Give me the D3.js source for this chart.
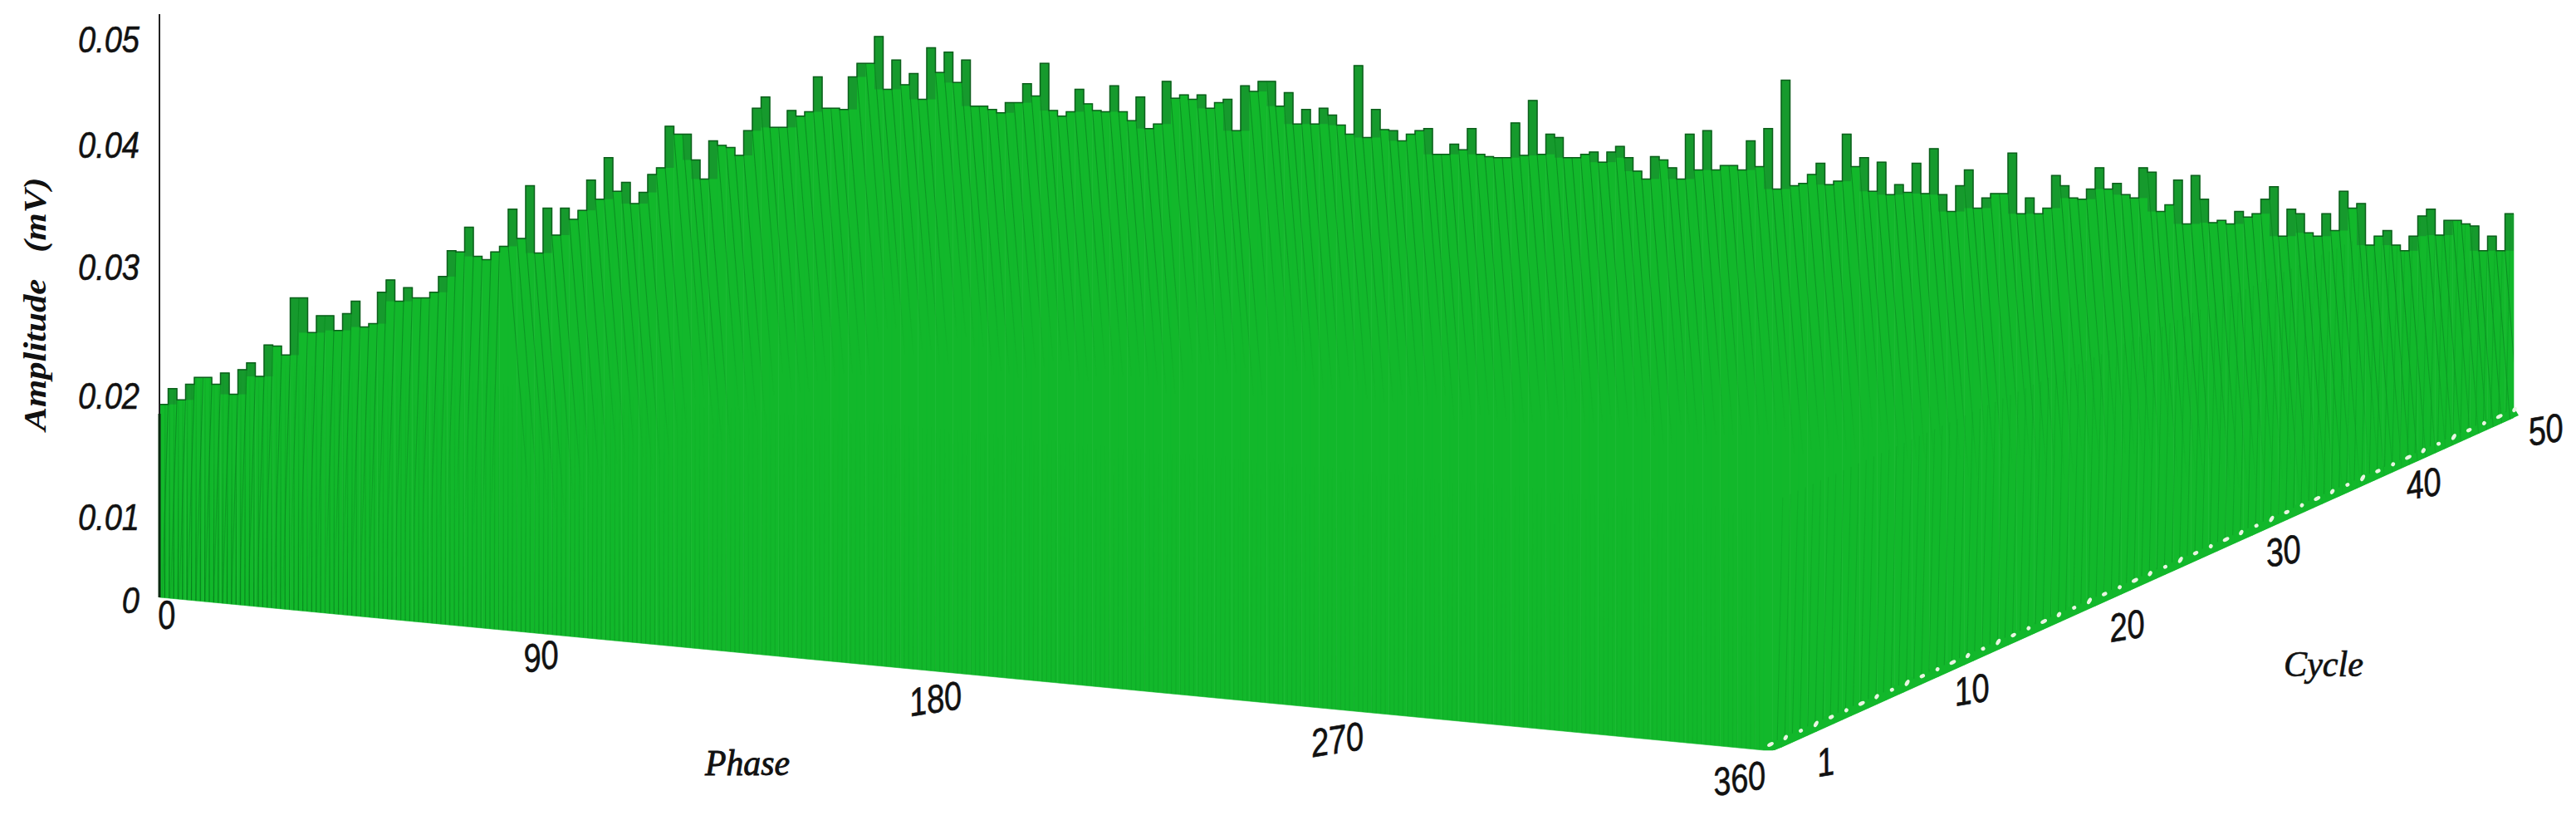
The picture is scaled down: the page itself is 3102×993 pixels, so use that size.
<!DOCTYPE html>
<html><head><meta charset="utf-8">
<script src="https://cdnjs.cloudflare.com/ajax/libs/d3/7.8.5/d3.min.js"></script>
<style>html,body{margin:0;padding:0;background:#fff}svg{display:block}</style></head>
<body><svg id="c" width="3102" height="993"></svg>
<script>
// Apparent height of every silhouette column, in microvolts (1000 = 1 mV)
const ridgeMicrovolts = [
17.5,18.9,17.9,19.3,19.9,19.9,19.3,20.3,18.4,20.6,21.2,20.0,22.8,22.7,21.9,27.0,27.0,23.9,25.4,25.4,
24.1,25.6,26.7,24.4,24.7,27.5,28.6,26.7,27.9,27.0,27.0,27.5,28.9,31.2,31.1,33.3,30.7,30.4,31.1,31.6,
34.9,32.3,37.0,31.0,35.0,32.6,35.0,34.0,34.8,37.5,35.8,39.5,36.5,37.3,35.4,36.4,38.0,38.6,42.3,41.6,
41.6,39.3,37.6,41.0,40.6,40.4,39.7,41.9,43.9,44.9,42.2,42.2,43.7,43.2,43.6,46.7,43.9,43.9,43.8,46.7,
47.9,47.9,50.3,45.6,48.2,46.0,47.0,44.7,49.3,47.1,48.9,46.2,48.2,44.1,44.1,43.8,43.5,44.4,44.4,46.1,
45.0,47.9,43.7,43.2,43.6,45.6,44.3,43.7,43.6,45.9,43.6,42.8,44.9,42.1,42.5,46.3,44.8,45.1,44.7,45.1,
43.9,44.4,44.7,41.9,45.9,45.4,46.3,46.3,44.1,45.3,42.5,43.8,42.5,43.9,43.3,42.4,41.6,47.7,41.3,43.8,
42.0,41.9,41.0,41.6,41.9,42.1,39.8,39.8,40.7,40.2,42.1,39.8,39.6,39.5,39.5,42.6,39.7,44.6,39.8,41.6,
41.3,39.5,39.5,39.8,40.0,39.1,40.0,40.5,39.5,38.3,37.6,39.6,39.3,38.6,37.6,41.6,38.4,41.9,38.4,38.8,
38.8,38.4,41.0,38.7,42.1,36.7,46.4,37.0,37.2,38.0,39.0,37.1,37.4,41.6,38.7,39.5,36.5,39.1,36.2,37.1,
36.4,39.0,36.3,40.3,36.2,34.7,37.0,38.4,35.0,35.9,36.3,36.3,39.9,34.5,35.9,34.5,35.0,37.9,37.0,35.9,
35.8,36.7,38.6,36.7,37.2,36.2,35.9,38.6,38.2,34.7,35.3,37.5,33.6,37.9,35.8,33.7,33.9,33.6,34.7,34.2,
34.5,35.8,36.9,32.5,34.9,34.5,32.8,32.5,34.5,33.0,36.5,35.0,35.4,31.7,32.5,33.0,31.7,31.2,32.5,34.3,
34.9,32.6,33.9,33.9,33.6,33.4,31.2,32.5,31.2,34.5];
const amplitudeTicks = [0,10,20,30,40,50];
const amplitudeLabels = ["0","0.01","0.02","0.03","0.04","0.05"];
const phaseTicks = [0,90,180,270,360];
const cycleTicks = [1,10,20,30,40,50];

const GREEN="#12b82b", SPIKE="#169a2d", EDGE="#0d5f1c", TEXT="#111";
const svg=d3.select("#c");
const defs=svg.append("defs");
function fade(id,c,a){const g=defs.append("linearGradient").attr("id",id).attr("x1",0).attr("x2",0).attr("y1",0).attr("y2",1);
  a.forEach(([o,v])=>g.append("stop").attr("offset",o).attr("stop-color",c).attr("stop-opacity",v));}
fade("fadeDown","#0a8a20",[[0,.95],[.55,.55],[1,0]]);
fade("fadeUp","#067a1a",[[0,0],[.45,.35],[1,1]]);
fade("sideUp","#0a9a22",[[0,.4],[1,.95]]);

// scales
const y=d3.scaleLinear().domain([0,50]).range([723,48]);              // column tops
const yTick=d3.scaleLinear().domain(amplitudeTicks).range([723,623,477,322,175,48]); // printed labels
const column=d3.scaleBand().domain(d3.range(ridgeMicrovolts.length)).range([192,3027]);
const floorY=d3.scaleLinear().domain([193,2124,2137,3033]).range([719,903,903,500]).clamp(true);
const phaseEdgeX=d3.scaleLinear().domain([0,360]).range([193,2124]);
const cycleEdgeX=d3.scaleLinear().domain([1,50]).range([2137,3033]);
const phaseLabelX=d3.scaleLinear().domain(phaseTicks).range([200,651,1126,1610,2094]);
const phaseLabelY=d3.scaleLinear().domain(phaseTicks).range([740,790,841,890,937]);
const cycleLabelX=d3.scaleLinear().domain(cycleTicks).range([2198,2374,2561,2749,2918,3065]);
const cycleLabelY=d3.scaleLinear().domain(cycleTicks).range([917,830,753,663,582,517]);

const w=column.bandwidth();
const idx=ridgeMicrovolts.map((_,i)=>i);
const topY=i=>y(ridgeMicrovolts[i]);
const barPath=i=>{const a=column(i),b=a+w;return `M${a},${topY(i)}L${b},${topY(i)}L${b},${floorY(b)}L${a},${floorY(a)}Z`;};

// everything inside the wall is clipped to the union of the bars
defs.append("clipPath").attr("id","wall").selectAll("path").data(idx).join("path").attr("d",barPath);

// floor strip under the wall
svg.append("path").attr("d",d3.line()([[2124,903],[2137,903],[3033,500],[3027,490],[2124,895]])).attr("fill",GREEN);

// bars
svg.append("g").selectAll("path").data(idx).join("path")
 .attr("d",barPath).attr("fill",GREEN).attr("stroke",GREEN).attr("stroke-width",.6);

// darker upper part of the bars that stand above their neighbours
const shoulder=i=>Math.max(topY(i-1>=0?i-1:i),topY(i+1<idx.length?i+1:i));
svg.append("g").selectAll("rect").data(idx.filter(i=>shoulder(i)-topY(i)>12))
 .join("rect").attr("x",i=>column(i)).attr("width",w).attr("y",i=>topY(i))
 .attr("height",i=>shoulder(i)-topY(i))
 .attr("fill",SPIKE);

const inner=svg.append("g").attr("clip-path","url(#wall)");

// thin seams running down from the silhouette
inner.append("g").selectAll("line").data(idx.slice(1)).join("line")
 .attr("x1",i=>column(i)).attr("y1",i=>Math.max(topY(i),topY(i-1)))
 .attr("x2",i=>column(i)+(i<40?-10:26)).attr("y2",i=>Math.max(topY(i),topY(i-1))+320)
 .attr("stroke","url(#fadeDown)").attr("stroke-width",1.1);

// phase bars along the front edge
const frontOpacity=d3.scaleLinear().domain([0,50,140,360]).range([.95,.6,.22,.12]);
inner.append("g").selectAll("line").data(d3.range(1,360)).join("line")
 .attr("x1",p=>phaseEdgeX(p)+.6).attr("y1",p=>floorY(phaseEdgeX(p))-300)
 .attr("x2",p=>phaseEdgeX(p)).attr("y2",p=>floorY(phaseEdgeX(p)))
 .attr("stroke","url(#fadeUp)").attr("stroke-width",1.2).attr("opacity",p=>frontOpacity(p));

// cycle-side bars
inner.append("g").selectAll("line").data(d3.range(1.5,49.9,.5)).join("line")
 .attr("x1",c=>cycleEdgeX(c)+.6).attr("y1",c=>floorY(cycleEdgeX(c))-300)
 .attr("x2",c=>cycleEdgeX(c)-6).attr("y2",c=>floorY(cycleEdgeX(c))-8)
 .attr("stroke","url(#sideUp)").attr("stroke-width",1).attr("opacity",.75);

// gaps between the cycle rows along the floor edge
svg.append("g").selectAll("ellipse").data(d3.range(1,51)).join("ellipse")
 .attr("transform",c=>`translate(${cycleEdgeX(c)-5},${floorY(cycleEdgeX(c))-7}) rotate(${c%2?-28:-60})`)
 .attr("rx",c=>c%3==0?2.6:c%3==1?4.2:3.4).attr("ry",2.3).attr("fill","#e9f6e2");

// silhouette outline
svg.append("path").datum(idx.concat([idx.length]))
 .attr("d",d3.line().curve(d3.curveStepAfter).x(i=>column(0)+i*w).y(i=>topY(Math.min(i,idx.length-1))))
 .attr("fill","none").attr("stroke",EDGE).attr("stroke-width",1.5);

// amplitude axis
svg.append("line").attr("x1",192).attr("x2",192).attr("y1",17).attr("y2",719).attr("stroke","#222").attr("stroke-width",2);
svg.append("line").attr("x1",192).attr("x2",192).attr("y1",498).attr("y2",719).attr("stroke","#0a2a10").attr("stroke-width",3);
const yAxis=svg.append("g").attr("transform","translate(168,0)")
 .call(d3.axisLeft(yTick).tickValues(amplitudeTicks).tickSize(0).tickPadding(0).tickFormat((d,i)=>amplitudeLabels[i]));
yAxis.select(".domain").remove();
yAxis.selectAll("text").attr("font-family","Liberation Sans").attr("font-style","italic")
 .attr("font-size",38).attr("fill",TEXT).attr("fill-opacity",1).attr("stroke",TEXT).attr("stroke-width",.5)
 .attr("transform","scale(1,1.18)");

const tick=(sel,fx,fy,rot)=>sel.attr("transform",d=>`translate(${fx(d)},${fy(d)}) rotate(${rot}) scale(1,1.25)`)
 .attr("text-anchor","middle").attr("dominant-baseline","central")
 .attr("font-family","Liberation Sans").attr("font-style","italic").attr("font-size",38)
 .attr("fill",TEXT).attr("stroke",TEXT).attr("stroke-width",.5).text(d=>d);
svg.append("g").selectAll("text").data(phaseTicks).join("text").call(tick,phaseLabelX,phaseLabelY,-9);
svg.append("g").selectAll("text").data(cycleTicks).join("text").call(tick,cycleLabelX,cycleLabelY,-9);

// axis titles
const axisTitle=(t,x,yy,rot,size,len,weight,sw)=>svg.append("text").attr("transform",`translate(${x},${yy}) rotate(${rot})`)
 .attr("text-anchor","middle").attr("dominant-baseline","central").attr("font-family","Liberation Serif")
 .attr("font-style","italic").attr("font-weight",weight).attr("font-size",size).attr("fill",TEXT)
 .attr("stroke",TEXT).attr("stroke-width",sw)
 .attr("textLength",len).attr("lengthAdjust","spacingAndGlyphs").attr("xml:space","preserve").text(t);
axisTitle("Amplitude   (mV)",42,366,-90,38,305,"bold",0);
axisTitle("Phase",900,918,0,44,102,"normal",.9);
axisTitle("Cycle",2798,799,0,44,96,"normal",.7);
</script></body></html>
